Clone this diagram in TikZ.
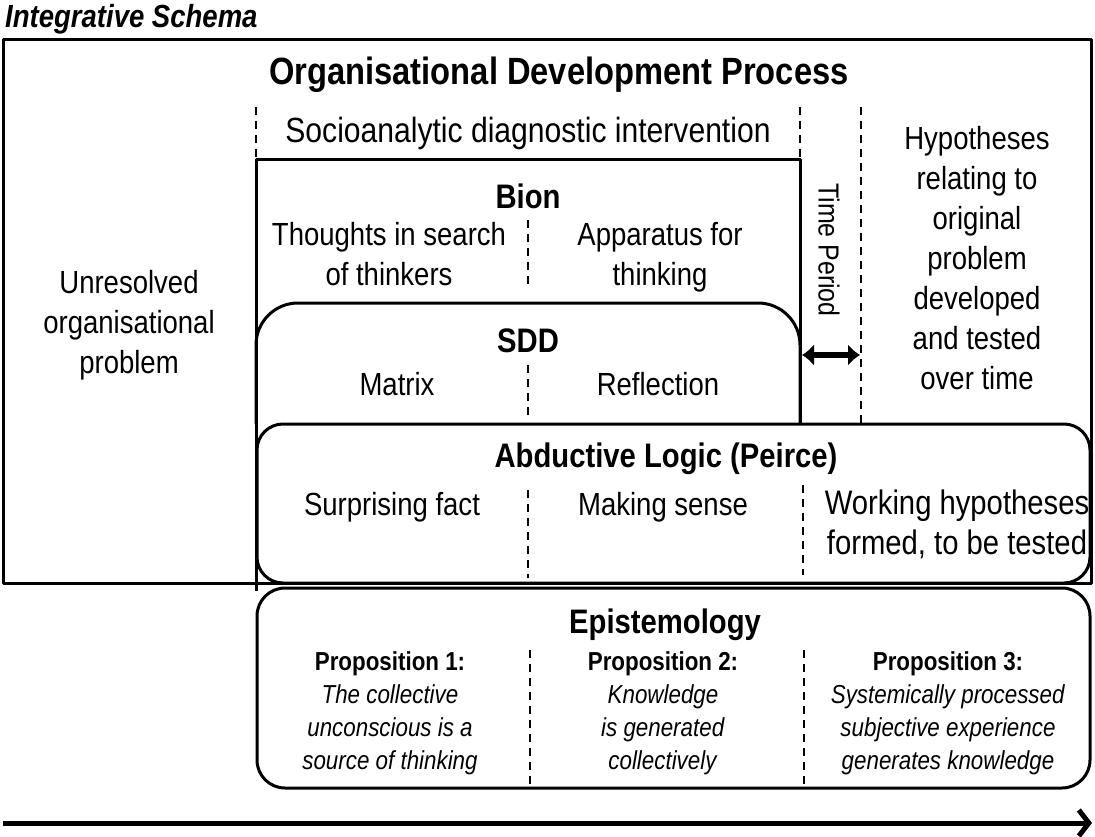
\documentclass[tikz,border=0pt]{standalone}
\usepackage{fontspec}
\setmainfont{Liberation Sans}[FakeStretch=0.86]
\usetikzlibrary{arrows.meta}

\tikzset{frame/.style = {line width=3pt, line join=round},
         divider/.style = {line width=2pt, dash pattern=on 8pt off 6pt},
         txt/.style = {inner sep=0pt, align=center, font=\fontsize{32}{40}\selectfont},
         head/.style = {inner sep=0pt, font=\bfseries\fontsize{34}{40}\selectfont},
         prop/.style = {inner sep=0pt, align=center, font=\fontsize{26}{33}\selectfont}
        }

\begin{document}
\begin{tikzpicture}[x=1pt,y=-1pt]
  \useasboundingbox (0,0) rectangle (1095,837);
  \node[anchor=base west, inner sep=0pt, font=\bfseries\itshape\fontsize{32}{36}\selectfont] (schema) at (5,28) {Integrative Schema};
  \draw[frame] (3,40) rectangle (1091,583);
  \node[head, anchor=base, font=\bfseries\fontsize{38}{44}\selectfont] (odp) at (559,85) {Organisational Development Process};

  \draw[frame] (256,591) -- (256,160) -- (800,160) -- (800,424);
  \draw[frame, rounded corners=42pt] (256,424) -- (256,303) -- (800,303) -- (800,424);
  \draw[frame, fill=white, rounded corners=26pt] (257,424) rectangle (1090,583);
  \draw[frame, rounded corners=28pt] (257,588) rectangle (1090,788);

  \draw[divider] (256,107) -- (256,160);
  \draw[divider] (800,107) -- (800,160);
  \draw[divider] (861,107) -- (861,424);
  \draw[divider] (528,220) -- (528,284);
  \draw[divider] (528,365) -- (528,415);
  \draw[divider] (528,490) -- (528,578);
  \draw[divider] (803,485) -- (803,575);
  \draw[divider] (530,650) -- (530,788);
  \draw[divider] (804,650) -- (804,788);

  \node[txt, anchor=base, font=\fontsize{35}{40}\selectfont] (socio) at (528,143) {Socioanalytic diagnostic intervention};
  \node[txt, anchor=north] (hyp) at (977,126) {Hypotheses\\relating to\\original\\problem\\developed\\and tested\\over time};
  \node[txt, anchor=north] (unres) at (129,270) {Unresolved\\organisational\\problem};

  \node[head, anchor=base] (bion) at (528,209) {Bion};
  \node[txt, anchor=north] (thoughts) at (389,222) {Thoughts in search\\of thinkers};
  \node[txt, anchor=north] (apparatus) at (660,222) {Apparatus for\\thinking};
  \node[txt, rotate=-90, font=\fontsize{29}{34}\selectfont] (period) at (829,250) {Time Period};
  \coordinate (tpl) at (802,355);
  \coordinate (tpr) at (860,355);
  \draw[line width=6pt, {Latex[length=12pt,width=22pt]}-{Latex[length=12pt,width=22pt]}] (tpl) -- (tpr);

  \node[head, anchor=base] (sdd) at (528,352) {SDD};
  \node[txt, anchor=base] (matrix) at (397,395) {Matrix};
  \node[txt, anchor=base] (reflection) at (658,395) {Reflection};

  \node[head, anchor=base] (abductive) at (666,467) {Abductive Logic (Peirce)};
  \node[txt, anchor=base] (surprise) at (392,515) {Surprising fact};
  \node[txt, anchor=base] (sense) at (663,515) {Making sense};
  \node[txt, anchor=north, font=\fontsize{34}{40}\selectfont] (working) at (957,490) {Working hypotheses\\formed, to be tested};

  \node[head, anchor=base] (episteme) at (665,633) {Epistemology};
  \node[prop, anchor=north] (prop1) at (390,651) {\textbf{Proposition 1:}\\\textit{The collective}\\\textit{unconscious is a}\\\textit{source of thinking}};
  \node[prop, anchor=north] (prop2) at (663,651) {\textbf{Proposition 2:}\\\textit{Knowledge}\\\textit{is generated}\\\textit{collectively}};
  \node[prop, anchor=north] (prop3) at (948,651) {\textbf{Proposition 3:}\\\textit{Systemically processed}\\\textit{subjective experience}\\\textit{generates knowledge}};

  \coordinate (tstart) at (3,823);
  \coordinate (tend) at (1092,823);
  \draw[line width=5pt, -{Straight Barb[length=10pt,width=26pt]}] (tstart) -- (tend);
\end{tikzpicture}
\end{document}
